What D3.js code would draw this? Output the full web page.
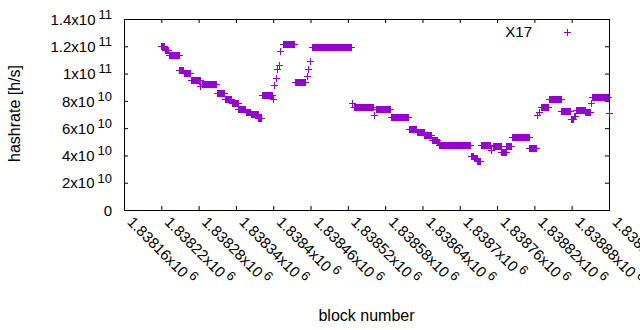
<!DOCTYPE html>
<html>
<head>
<meta charset="utf-8">
<script src="https://cdn.jsdelivr.net/npm/d3@7"></script>
<style>
    body { margin: 0; background: #fff; }
    text { font-family: "Liberation Sans", Arial, sans-serif; fill: #000; }
    .domain { display: none; }
</style>
</head>
<body>
<script>
//hashrate runs: first block, last block, hashrate [h/s]
var runFirst = [1838220, 1838226, 1838232, 1838249, 1838256, 1838267, 1838283, 1838285, 1838309, 1838322,
    1838333, 1838344, 1838356, 1838364, 1838376, 1838382, 1838399, 1838402, 1838404, 1838406,
    1838409, 1838411, 1838415, 1838435, 1838454, 1838456, 1838459, 1838462, 1838526, 1838530,
    1838562, 1838565, 1838589, 1838618, 1838631, 1838643, 1838655, 1838664, 1838667, 1838718,
    1838723, 1838728, 1838734, 1838751, 1838753, 1838767, 1838775, 1838784, 1838812, 1838825,
    1838828, 1838831, 1838844, 1838863, 1838879, 1838883, 1838887, 1838902, 1838911, 1838913,
    1838940];
var runLast = [1838224, 1838231, 1838248, 1838255, 1838266, 1838282, 1838283, 1838308, 1838321, 1838332,
    1838343, 1838355, 1838363, 1838375, 1838381, 1838398, 1838399, 1838402, 1838404, 1838406,
    1838409, 1838411, 1838434, 1838451, 1838454, 1838456, 1838459, 1838525, 1838526, 1838560,
    1838562, 1838588, 1838617, 1838630, 1838642, 1838654, 1838663, 1838666, 1838717, 1838722,
    1838727, 1838733, 1838748, 1838751, 1838766, 1838774, 1838783, 1838811, 1838823, 1838825,
    1838828, 1838842, 1838862, 1838878, 1838882, 1838886, 1838901, 1838909, 1838911, 1838938,
    1838940];
var runRate = [1.204e11, 1.175e11, 1.139e11, 1.029e11, 1.002e11, 0.953e11, 0.906e11, 0.924e11, 0.857e11, 0.813e11,
    0.785e11, 0.743e11, 0.721e11, 0.706e11, 0.674e11, 0.841e11, 0.814e11, 0.919e11, 0.968e11, 1.034e11,
    1.065e11, 1.168e11, 1.217e11, 0.939e11, 0.983e11, 1.034e11, 1.095e11, 1.194e11, 0.785e11, 0.755e11,
    0.699e11, 0.741e11, 0.682e11, 0.595e11, 0.571e11, 0.548e11, 0.515e11, 0.496e11, 0.477e11, 0.399e11,
    0.381e11, 0.362e11, 0.480e11, 0.443e11, 0.471e11, 0.423e11, 0.469e11, 0.534e11, 0.454e11, 0.694e11,
    0.716e11, 0.756e11, 0.814e11, 0.723e11, 0.670e11, 0.692e11, 0.736e11, 0.716e11, 0.785e11, 0.829e11,
    0.712e11];

//axis ticks and their labels (mantissa + exponent)
var xTicks = d3.range(1838160, 1838941, 60);
var xTickBase = ["1.83816x10", "1.83822x10", "1.83828x10", "1.83834x10", "1.8384x10", "1.83846x10", "1.83852x10",
    "1.83858x10", "1.83864x10", "1.8387x10", "1.83876x10", "1.83882x10", "1.83888x10", "1.83894x10"];
var xTickExp = ["6", "6", "6", "6", "6", "6", "6", "6", "6", "6", "6", "6", "6", "6"];
var yTicks = [0, 2e10, 4e10, 6e10, 8e10, 1e11, 1.2e11, 1.4e11];
var yTickBase = ["0", "2x10", "4x10", "6x10", "8x10", "1x10", "1.2x10", "1.4x10"];
var yTickExp = ["", "10", "10", "10", "10", "11", "11", "11"];

var seriesName = "X17";
var color = "#9400d3";

window.onload = setChart();

function setChart(){
    var width = 640,
        height = 330;
    var left = 124, right = 609, top = 19, bottom = 210;
    var tick = 4;

    var svg = d3.select("body")
        .append("svg")
        .attr("width", width)
        .attr("height", height);

    var x = d3.scaleLinear()
        .domain([1838160, 1838940])
        .range([left, right]);

    var y = d3.scaleLinear()
        .domain([0, 1.4e11])
        .range([bottom, top]);

    //tick marks on all four sides, pointing inwards
    var gx = svg.append("g")
        .attr("transform", "translate(0," + bottom + ")")
        .call(d3.axisBottom(x).tickValues(xTicks).tickSizeInner(-tick).tickSizeOuter(0).tickFormat(""));
    svg.append("g")
        .attr("transform", "translate(0," + top + ")")
        .call(d3.axisTop(x).tickValues(xTicks).tickSizeInner(-tick).tickSizeOuter(0).tickFormat(""));
    var gy = svg.append("g")
        .attr("transform", "translate(" + left + ",0)")
        .call(d3.axisLeft(y).tickValues(yTicks).tickSizeInner(-tick).tickSizeOuter(0).tickFormat(""));
    svg.append("g")
        .attr("transform", "translate(" + right + ",0)")
        .call(d3.axisRight(y).tickValues(yTicks).tickSizeInner(-tick).tickSizeOuter(0).tickFormat(""));
    svg.selectAll(".tick line").attr("stroke", "#000");

    //y tick labels with superscript exponent
    gy.selectAll(".tick text").remove();
    gy.selectAll(".tick").each(function(d, i){
        var t = d3.select(this).append("text")
            .attr("x", -12)
            .attr("dy", "0.35em")
            .attr("text-anchor", "end")
            .style("font-size", "15px");
        t.append("tspan").text(yTickBase[i]);
        if (yTickExp[i]) {
            t.append("tspan").attr("dx", 3).attr("dy", "-0.45em")
                .style("font-size", "13px").text(yTickExp[i]);
        }
    });

    //x tick labels, rotated, exponent raised
    gx.selectAll(".tick text").remove();
    gx.selectAll(".tick").each(function(d, i){
        var t = d3.select(this).append("text")
            .attr("transform", "translate(2,13) rotate(45)")
            .attr("text-anchor", "start")
            .style("font-size", "15px");
        t.append("tspan").text(xTickBase[i]);
        t.append("tspan").attr("dx", 3).attr("dy", "-0.45em")
            .style("font-size", "13px").text(xTickExp[i]);
    });

    //frame
    svg.append("rect")
        .attr("x", left + 0.5)
        .attr("y", top + 0.5)
        .attr("width", right - left)
        .attr("height", bottom - top)
        .attr("fill", "none")
        .attr("stroke", "#000");

    //axis titles
    svg.append("text")
        .attr("transform", "translate(20," + ((top + bottom) / 2 - 1) + ") rotate(-90)")
        .attr("text-anchor", "middle")
        .style("font-size", "16px")
        .text("hashrate [h/s]");
    svg.append("text")
        .attr("x", (left + right) / 2)
        .attr("y", 321)
        .attr("text-anchor", "middle")
        .style("font-size", "16px")
        .text("block number");

    //one "+" per block: a run of equal values shows as a filled band with arms
    var runs = d3.range(runFirst.length);
    var marks = svg.append("g").attr("class", "marks");
    marks.selectAll(".run")
        .data(runs)
        .enter()
        .append("rect")
        .attr("class", "run")
        .attr("x", function(i){ return Math.round(x(runFirst[i])); })
        .attr("y", function(i){ return Math.round(y(runRate[i])) - 3; })
        .attr("width", function(i){ return Math.round(x(runLast[i])) - Math.round(x(runFirst[i])) + 1; })
        .attr("height", 7)
        .attr("fill", color);
    marks.selectAll(".arm")
        .data(runs)
        .enter()
        .append("line")
        .attr("class", "arm")
        .attr("x1", function(i){ return Math.round(x(runFirst[i])) - 3; })
        .attr("x2", function(i){ return Math.round(x(runLast[i])) + 4; })
        .attr("y1", function(i){ return Math.round(y(runRate[i])) + 0.5; })
        .attr("y2", function(i){ return Math.round(y(runRate[i])) + 0.5; })
        .attr("stroke", color);

    //legend
    svg.append("text")
        .attr("x", 532)
        .attr("y", 32)
        .attr("dy", "0.35em")
        .attr("text-anchor", "end")
        .style("font-size", "15px")
        .text(seriesName);
    var lg = svg.append("g").attr("transform", "translate(567,32)");
    lg.append("line").attr("x1", -3).attr("x2", 4).attr("y1", 0.5).attr("y2", 0.5).attr("stroke", color);
    lg.append("line").attr("x1", 0.5).attr("x2", 0.5).attr("y1", -3).attr("y2", 4).attr("stroke", color);
}
</script>
</body>
</html>
